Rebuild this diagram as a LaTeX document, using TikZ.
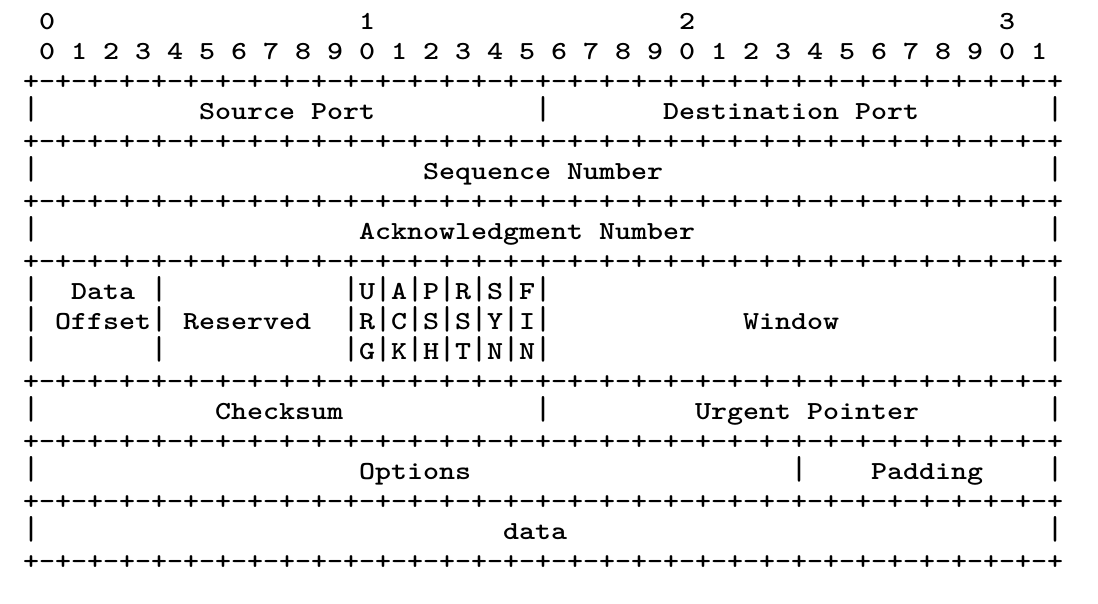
\documentclass[tikz,border=0pt]{standalone}
\usepackage{graphicx}
\newcommand{\tcp}[1]{\scalebox{1.1722}[1]{#1}}
\newcommand{\vbar}{\scalebox{1}[1.28]{|}}

\begin{document}
\begin{tikzpicture}[x=16pt,y=-30pt,every node/.append style={inner sep=0pt,anchor=base west},txt/.style={font=\fontsize{26}{30}\selectfont\ttfamily\bfseries}]
    \useasboundingbox (-1.9375,-0.7) rectangle (66.6875,19.4333);
    % bit numbers
    \node [txt] (ten0) at (0.5,0.27) {\tcp{0}};
    \node [txt] (ten1) at (20.5,0.27) {\tcp{1}};
    \node [txt] (ten2) at (40.5,0.27) {\tcp{2}};
    \node [txt] (ten3) at (60.5,0.27) {\tcp{3}};
    \node [txt] (bits) at (0.5,1.27) {\tcp{0 1 2 3 4 5 6 7 8 9 0 1 2 3 4 5 6 7 8 9 0 1 2 3 4 5 6 7 8 9 0 1}};
    % separator lines and outer bars
    \foreach \r in {2,4,6,8,12,14,16,18}
        \node [txt] (sep\r) at (-0.5,\r+0.27) {\tcp{+-+-+-+-+-+-+-+-+-+-+-+-+-+-+-+-+-+-+-+-+-+-+-+-+-+-+-+-+-+-+-+-+}};
    \foreach \r in {3,5,7,9,10,11,13,15,17} {
        \node [txt] (left\r) at (-0.5,\r+0.27) {\tcp{\vbar}};
        \node [txt] (right\r) at (63.5,\r+0.27) {\tcp{\vbar}};
    }
    % ports
    \node [txt] (srcport) at (10.5,3.27) {\tcp{Source Port}};
    \node [txt] (mid3) at (31.5,3.27) {\tcp{\vbar}};
    \node [txt] (dstport) at (39.5,3.27) {\tcp{Destination Port}};
    \node [txt] (seq) at (24.5,5.27) {\tcp{Sequence Number}};
    \node [txt] (ack) at (20.5,7.27) {\tcp{Acknowledgment Number}};
    % offset, reserved, flags, window
    \foreach \r in {9,10,11}
        \node [txt] (off\r) at (7.5,\r+0.27) {\tcp{\vbar}};
    \node [txt] (data) at (2.5,9.27) {\tcp{Data}};
    \node [txt] (offset) at (1.5,10.27) {\tcp{Offset}};
    \node [txt] (reserved) at (9.5,10.27) {\tcp{Reserved}};
    \node [txt] (flagsA) at (19.5,9.27) {\tcp{\vbar U\vbar A\vbar P\vbar R\vbar S\vbar F\vbar}};
    \node [txt] (flagsB) at (19.5,10.27) {\tcp{\vbar R\vbar C\vbar S\vbar S\vbar Y\vbar I\vbar}};
    \node [txt] (flagsC) at (19.5,11.27) {\tcp{\vbar G\vbar K\vbar H\vbar T\vbar N\vbar N\vbar}};
    \node [txt] (window) at (44.5,10.27) {\tcp{Window}};
    % checksum, urgent pointer
    \node [txt] (checksum) at (11.5,13.27) {\tcp{Checksum}};
    \node [txt] (mid13) at (31.5,13.27) {\tcp{\vbar}};
    \node [txt] (urgent) at (41.5,13.27) {\tcp{Urgent Pointer}};
    % options, padding, payload
    \node [txt] (options) at (20.5,15.27) {\tcp{Options}};
    \node [txt] (mid15) at (47.5,15.27) {\tcp{\vbar}};
    \node [txt] (padding) at (52.5,15.27) {\tcp{Padding}};
    \node [txt] (payload) at (29.5,17.27) {\tcp{data}};
\end{tikzpicture}
\end{document}
